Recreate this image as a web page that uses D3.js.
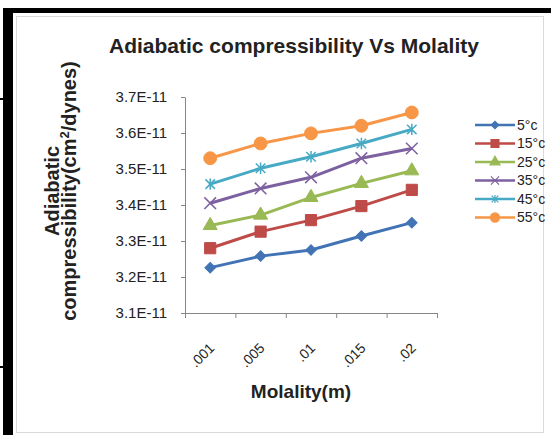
<!DOCTYPE html>
<html>
<head>
<meta charset="utf-8">
<script src="https://cdn.jsdelivr.net/npm/d3@7/dist/d3.min.js"></script>
<style>
  body { margin: 0; background: #fff; }
  svg { display: block; }
  text { font-family: "Liberation Sans", Arial, sans-serif; }
</style>
</head>
<body>
<div id="chart"></div>
<script>
// molality categories
let molality = [".001", ".005", ".01", ".015", ".02"];

// adiabatic compressibility (cm2/dynes), one array per temperature
let t5  = [3.226e-11, 3.258e-11, 3.275e-11, 3.314e-11, 3.351e-11];
let t15 = [3.280e-11, 3.326e-11, 3.358e-11, 3.397e-11, 3.442e-11];
let t25 = [3.343e-11, 3.372e-11, 3.421e-11, 3.460e-11, 3.495e-11];
let t35 = [3.405e-11, 3.446e-11, 3.477e-11, 3.530e-11, 3.557e-11];
let t45 = [3.458e-11, 3.502e-11, 3.534e-11, 3.571e-11, 3.610e-11];
let t55 = [3.530e-11, 3.571e-11, 3.599e-11, 3.620e-11, 3.657e-11];

let seriesNames = ["5°c", "15°c", "25°c", "35°c", "45°c", "55°c"];
let yTicks = [3.1e-11, 3.2e-11, 3.3e-11, 3.4e-11, 3.5e-11, 3.6e-11, 3.7e-11];

let width = 551, height = 435;
let margin = { top: 97, bottom: 122, left: 185, right: 114 };

// excel 2007 palette
let colors = ["#4274b5", "#be4b48", "#98b954", "#7d60a0", "#46aac5", "#f79646"];

// star marker = X with a vertical bar
let symbolStar = {
  draw: function(ctx, size) {
    let r = Math.sqrt(size) / 2;
    ctx.moveTo(-r, -r); ctx.lineTo(r, r);
    ctx.moveTo(-r, r); ctx.lineTo(r, -r);
    ctx.moveTo(0, -r * 1.2); ctx.lineTo(0, r * 1.2);
  }
};
let markers = [
  { type: d3.symbolSquare, size: 56, rot: 45, fill: true },
  { type: d3.symbolSquare, size: 125, rot: 0, fill: true },
  { type: d3.symbolTriangle, size: 85, rot: 0, fill: true },
  { type: d3.symbolTimes, size: 90, rot: 0, fill: false },
  { type: symbolStar, size: 90, rot: 0, fill: false },
  { type: d3.symbolCircle, size: 130, rot: 0, fill: true }
];

let series = [t5, t15, t25, t35, t45, t55].map((vals, i) => {
  return {
    name: seriesNames[i],
    color: colors[i],
    marker: markers[i],
    data: vals.map((v, j) => { return { cat: molality[j], value: v } })
  }
});

let svg = d3.select("#chart").append("svg")
  .attr("width", width)
  .attr("height", height);

// chart area border + black frame bits of the scanned page
svg.append("rect")
  .attr("x", 16.5).attr("y", 16.5)
  .attr("width", 527).attr("height", 416)
  .attr("fill", "#fff")
  .attr("stroke", "#d9d9d9");
svg.append("rect").attr("x", 3).attr("y", 8).attr("width", 10).attr("height", height - 8).attr("fill", "#000");
svg.append("rect").attr("x", 8).attr("y", 8).attr("width", width - 8).attr("height", 5).attr("fill", "#000");
svg.append("rect").attr("x", 0).attr("y", 98).attr("width", 5).attr("height", 2).attr("fill", "#000");
svg.append("rect").attr("x", 0).attr("y", 366).attr("width", 5).attr("height", 2).attr("fill", "#000");

let xScale = d3.scaleBand()
  .domain(molality)
  .range([margin.left, width - margin.right])
  .padding(0);
let xEdge = d3.scaleLinear()
  .domain([0, molality.length])
  .range([margin.left, width - margin.right]);
let yScale = d3.scaleLinear()
  .domain([3.1e-11, 3.7e-11])
  .range([height - margin.bottom, margin.top]);

let cx = d => xScale(d) + xScale.bandwidth() / 2;

// y axis
let yAxis = d3.axisLeft(yScale)
  .tickValues(yTicks)
  .tickSize(4)
  .tickSizeOuter(0)
  .tickFormat(d => (d / 1e-11).toFixed(1) + "E-11");
let gy = svg.append("g")
  .attr("transform", `translate(${margin.left},0)`)
  .call(yAxis);
gy.select(".domain").attr("stroke", "#868686");
gy.selectAll(".tick line").attr("stroke", "#868686");
gy.selectAll(".tick text")
  .attr("x", -18)
  .style("font-size", "15px")
  .style("font-family", "'Liberation Sans', Arial")
  .attr("fill", "#222");

// x axis: tick marks between categories, labels rotated
let xAxis = d3.axisBottom(xEdge)
  .ticks(molality.length)
  .tickSize(5)
  .tickSizeOuter(0)
  .tickFormat("");
let gx = svg.append("g")
  .attr("transform", `translate(0,${height - margin.bottom})`)
  .call(xAxis);
gx.select(".domain").attr("stroke", "#868686");
gx.selectAll(".tick line").attr("stroke", "#868686");

svg.append("g").selectAll("text")
  .data(molality)
  .enter()
  .append("text")
  .attr("transform", d => `translate(${cx(d) + 5},${height - margin.bottom + 36}) rotate(-45)`)
  .attr("text-anchor", "end")
  .style("font-size", "14px")
  .style("font-family", "'Liberation Sans', Arial")
  .attr("fill", "#222")
  .text(d => d);

// lines
let line = d3.line()
  .x(d => cx(d.cat))
  .y(d => yScale(d.value));

let gs = svg.selectAll(".series")
  .data(series)
  .enter()
  .append("g")
  .attr("class", "series");

gs.append("path")
  .attr("d", d => line(d.data))
  .attr("fill", "none")
  .attr("stroke", d => d.color)
  .attr("stroke-width", 3)
  .attr("stroke-linejoin", "round");

gs.each(function(s) {
  d3.select(this).selectAll(".pt")
    .data(s.data)
    .enter()
    .append("path")
    .attr("class", "pt")
    .attr("transform", d => `translate(${cx(d.cat)},${yScale(d.value)}) rotate(${s.marker.rot})`)
    .attr("d", d3.symbol().type(s.marker.type).size(s.marker.size))
    .attr("fill", s.marker.fill ? s.color : "none")
    .attr("stroke", s.color)
    .attr("stroke-width", s.marker.fill ? 1 : 1.5);
});

// legend
let legend = svg.append("g")
  .attr("transform", "translate(475,125)");
let li = legend.selectAll(".item")
  .data(series)
  .enter()
  .append("g")
  .attr("class", "item")
  .attr("transform", (d, i) => `translate(0,${i * 18.5})`);
li.append("line")
  .attr("x1", 0).attr("x2", 40)
  .attr("stroke", d => d.color)
  .attr("stroke-width", 2.5);
li.append("path")
  .attr("transform", d => `translate(20,0) rotate(${d.marker.rot})`)
  .attr("d", d => d3.symbol().type(d.marker.type).size(d.marker.size * 0.5)())
  .attr("fill", d => d.marker.fill ? d.color : "none")
  .attr("stroke", d => d.color)
  .attr("stroke-width", 1.2);
li.append("text")
  .attr("x", 42)
  .attr("dy", "0.35em")
  .style("font-size", "14px")
  .style("font-family", "'Liberation Sans', Arial")
  .attr("fill", "#222")
  .text(d => d.name);

// titles
svg.append("text")
  .attr("x", 294)
  .attr("y", 53)
  .attr("text-anchor", "middle")
  .style("font-size", "21px")
  .style("font-weight", "bold")
  .attr("fill", "#222")
  .text("Adiabatic compressibility Vs Molality");

svg.append("text")
  .attr("x", 301)
  .attr("y", 398)
  .attr("text-anchor", "middle")
  .style("font-size", "19px")
  .style("font-weight", "bold")
  .attr("fill", "#222")
  .text("Molality(m)");

let yTitle = svg.append("text")
  .attr("transform", "translate(59,191) rotate(-90)")
  .attr("text-anchor", "middle")
  .style("font-size", "20px")
  .style("font-weight", "bold")
  .attr("fill", "#222");
yTitle.append("tspan").attr("x", 0).attr("dy", 0).text("Adiabatic");
let l2 = yTitle.append("tspan").attr("x", 0).attr("dy", 17);
l2.append("tspan").text("compressibility(cm");
l2.append("tspan").attr("dy", -7).style("font-size", "13px").text("2");
l2.append("tspan").attr("dy", 7).text("/dynes)");
</script>
</body>
</html>
